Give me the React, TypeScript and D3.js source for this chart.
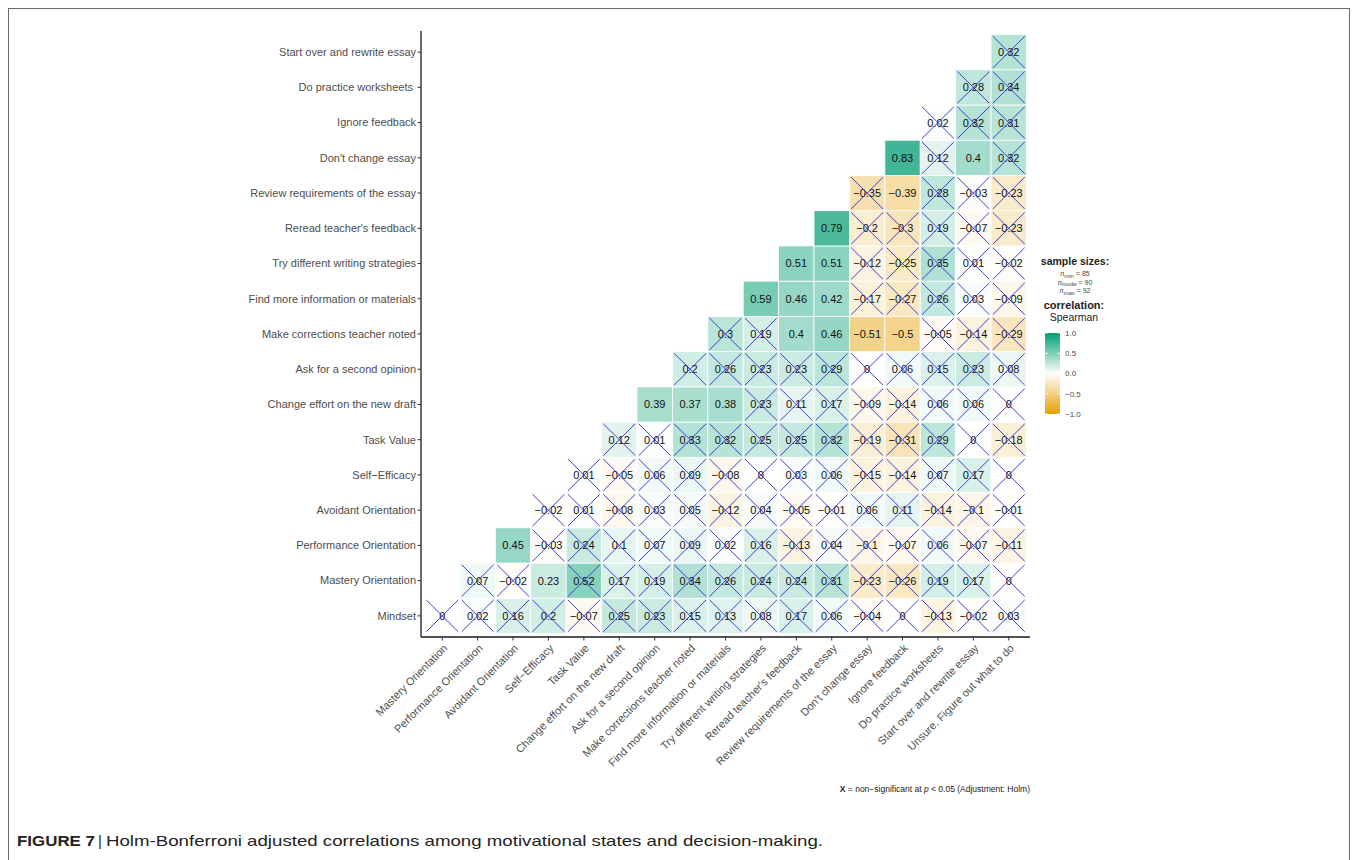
import React from "react";
import * as d3 from "d3";

// Variables on the vertical axis, bottom to top
const rowVars = [
  "Mindset",
  "Mastery Orientation",
  "Performance Orientation",
  "Avoidant Orientation",
  "Self\u2212Efficacy",
  "Task Value",
  "Change effort on the new draft",
  "Ask for a second opinion",
  "Make corrections teacher noted",
  "Find more information or materials",
  "Try different writing strategies",
  "Reread teacher's feedback",
  "Review requirements of the essay",
  "Don't change essay",
  "Ignore feedback",
  "Do practice worksheets ",
  "Start over and rewrite essay",
];

// Variables on the horizontal axis, left to right
const colVars = [
  "Mastery Orientation",
  "Performance Orientation",
  "Avoidant Orientation",
  "Self\u2212Efficacy",
  "Task Value",
  "Change effort on the new draft",
  "Ask for a second opinion",
  "Make corrections teacher noted",
  "Find more information or materials",
  "Try different writing strategies",
  "Reread teacher's feedback",
  "Review requirements of the essay",
  "Don't change essay",
  "Ignore feedback",
  "Do practice worksheets",
  "Start over and rewrite essay",
  "Unsure. Figure out what to do",
];

// Spearman correlations; row r starts at column r (lower triangle)
const mindset = [0, 0.02, 0.16, 0.2, -0.07, 0.25, 0.23, 0.15, 0.13, 0.08, 0.17, 0.06, -0.04, 0, -0.13, -0.02, 0.03];
const mastery = [0.07, -0.02, 0.23, 0.52, 0.17, 0.19, 0.34, 0.26, 0.24, 0.24, 0.31, -0.23, -0.26, 0.19, 0.17, 0];
const performance = [0.45, -0.03, 0.24, 0.1, 0.07, 0.09, 0.02, 0.16, -0.13, 0.04, -0.1, -0.07, 0.06, -0.07, -0.11];
const avoidant = [-0.02, 0.01, -0.08, 0.03, 0.05, -0.12, 0.04, -0.05, -0.01, 0.06, 0.11, -0.14, -0.1, -0.01];
const selfEfficacy = [0.01, -0.05, 0.06, 0.09, -0.08, 0, 0.03, 0.06, -0.15, -0.14, 0.07, 0.17, 0];
const taskValue = [0.12, 0.01, 0.33, 0.32, 0.25, 0.25, 0.32, -0.19, -0.31, 0.29, 0, -0.18];
const changeEffort = [0.39, 0.37, 0.38, 0.23, 0.11, 0.17, -0.09, -0.14, 0.06, 0.06, 0];
const askOpinion = [0.2, 0.26, 0.23, 0.23, 0.29, 0, 0.06, 0.15, 0.23, 0.08];
const makeCorrections = [0.3, 0.19, 0.4, 0.46, -0.51, -0.5, -0.05, -0.14, -0.29];
const findInfo = [0.59, 0.46, 0.42, -0.17, -0.27, 0.26, 0.03, -0.09];
const tryStrategies = [0.51, 0.51, -0.12, -0.25, 0.35, 0.01, -0.02];
const rereadFeedback = [0.79, -0.2, -0.3, 0.19, -0.07, -0.23];
const reviewRequirements = [-0.35, -0.39, 0.28, -0.03, -0.23];
const dontChange = [0.83, 0.12, 0.4, 0.32];
const ignoreFeedback = [0.02, 0.32, 0.31];
const practiceWorksheets = [0.28, 0.34];
const startOver = [0.32];

const rowValues = [
  mindset, mastery, performance, avoidant, selfEfficacy, taskValue, changeEffort,
  askOpinion, makeCorrections, findInfo, tryStrategies, rereadFeedback,
  reviewRequirements, dontChange, ignoreFeedback, practiceWorksheets, startOver,
];

// Pairs that stay significant after Holm adjustment: [row index, column index]
const significantPairs: [number, number][] = [
  [1, 3], [2, 2], [6, 6], [6, 7], [6, 8], [8, 10], [8, 11], [8, 12], [8, 13],
  [9, 9], [9, 10], [9, 11], [10, 10], [10, 11], [11, 11], [12, 13], [13, 13], [13, 15],
];

const legendTicks = [1, 0.5, 0, -0.5, -1];

const FONT = "'Liberation Sans', Arial, Helvetica, sans-serif";
const MINUS = "\u2212";
const fmt = (v: number) => String(v).replace("-", MINUS);

export default function App() {
  const x = d3.scaleBand<string>().domain(colVars).range([421, 1030]).paddingInner(0).paddingOuter(0.1);
  const y = d3.scaleBand<number>().domain(d3.range(rowVars.length)).range([637, 31]).paddingInner(0).paddingOuter(0.1);
  const fill = d3
    .scaleLinear<string>()
    .domain([-1, 0, 1])
    .range(["#E69F00", "#FFFFFF", "#009E73"])
    .interpolate(d3.interpolateRgb);

  const bw = x.bandwidth();
  const bh = y.bandwidth();
  const sig = new Set(significantPairs.map(([r, c]) => `${r}-${c}`));

  const cells: { r: number; c: number; v: number }[] = [];
  rowValues.forEach((vals, r) => {
    vals.forEach((v, k) => cells.push({ r, c: r + k, v }));
  });

  // legend colour bar
  const barX = 1045;
  const barW = 15;
  const barY = d3.scaleLinear().domain([1, -1]).range([333, 414]);
  const stops = d3.range(0, 1.0001, 0.05);

  const axisTop = 31;
  const axisBottom = 637;
  const axisLeft = 421;
  const axisRight = 1030;

  return (
    <svg
      width={1358}
      height={860}
      style={{ position: "absolute", left: 0, top: 0, background: "#fff" }}
      fontFamily={FONT}
    >
      <defs>
        <linearGradient id="corrBar" x1="0" y1="0" x2="0" y2="1">
          {stops.map((t) => (
            <stop key={t} offset={t} stopColor={fill(1 - 2 * t)} />
          ))}
        </linearGradient>
      </defs>

      {/* figure frame */}
      <rect x={8.5} y={8.5} width={1341} height={900} fill="none" stroke="#6b6b6b" strokeWidth={1} />

      {/* tiles */}
      <g>
        {cells.map(({ r, c, v }) => (
          <rect
            key={`t${r}-${c}`}
            x={x(colVars[c])!}
            y={y(r)!}
            width={bw}
            height={bh}
            fill={fill(v)}
            fillOpacity={0.9}
            stroke="#FFFFFF"
            strokeWidth={0.8}
          />
        ))}
      </g>

      {/* values */}
      <g fontSize={11} fill="#111" textAnchor="middle">
        {cells.map(({ r, c, v }) => (
          <text key={`v${r}-${c}`} x={x(colVars[c])! + bw / 2} y={y(r)! + bh / 2} dy="0.36em">
            {fmt(v)}
          </text>
        ))}
      </g>

      {/* non-significant markers */}
      <g stroke="#2B2BD0" strokeWidth={1} strokeOpacity={0.9}>
        {cells
          .filter(({ r, c }) => !sig.has(`${r}-${c}`))
          .map(({ r, c }) => {
            const cx = x(colVars[c])! + bw / 2;
            const cy = y(r)! + bh / 2;
            const h = bw * 0.45;
            const v = bh * 0.45;
            return (
              <g key={`x${r}-${c}`}>
                <line x1={cx - h} y1={cy - v} x2={cx + h} y2={cy + v} />
                <line x1={cx - h} y1={cy + v} x2={cx + h} y2={cy - v} />
              </g>
            );
          })}
      </g>

      {/* axes */}
      <line x1={axisLeft} y1={axisTop} x2={axisLeft} y2={axisBottom} stroke="#1a1a1a" strokeWidth={1.3} />
      <line x1={axisLeft} y1={axisBottom} x2={axisRight} y2={axisBottom} stroke="#1a1a1a" strokeWidth={1.3} />

      <g fontSize={11} fill="#4D4D4D">
        {rowVars.map((name, r) => {
          const cy = y(r)! + bh / 2;
          return (
            <g key={`yl${r}`}>
              <line x1={axisLeft - 3.5} x2={axisLeft} y1={cy} y2={cy} stroke="#333" strokeWidth={1} />
              <text x={axisLeft - 5} y={cy} dy="0.35em" textAnchor="end" style={{ whiteSpace: "pre" }}>
                {name}
              </text>
            </g>
          );
        })}
        {colVars.map((name) => {
          const cx = x(name)! + bw / 2;
          return (
            <g key={`xl${name}`}>
              <line x1={cx} x2={cx} y1={axisBottom} y2={axisBottom + 3.5} stroke="#333" strokeWidth={1} />
              <text transform={`translate(${cx},${axisBottom + 6}) rotate(-45)`} dy="0.75em" textAnchor="end">
                {name}
              </text>
            </g>
          );
        })}
      </g>

      {/* legend */}
      <g textAnchor="middle" fill="#222">
        <text x={1075} y={265} fontSize={10.5} fontWeight="bold">sample sizes:</text>
        <text x={1075} y={276} fontSize={7} fill="#444">
          <tspan fontStyle="italic">n</tspan>
          <tspan fontSize={6} dy={1.5}>min</tspan>
          <tspan dy={-1.5}>{" = 85"}</tspan>
        </text>
        <text x={1075} y={284.5} fontSize={7} fill="#444">
          <tspan fontStyle="italic">n</tspan>
          <tspan fontSize={6} dy={1.5}>mode</tspan>
          <tspan dy={-1.5}>{" = 90"}</tspan>
        </text>
        <text x={1075} y={293} fontSize={7} fill="#444">
          <tspan fontStyle="italic">n</tspan>
          <tspan fontSize={6} dy={1.5}>max</tspan>
          <tspan dy={-1.5}>{" = 92"}</tspan>
        </text>
        <text x={1074} y={309} fontSize={11} fontWeight="bold">correlation:</text>
        <text x={1074} y={321} fontSize={10.5}>Spearman</text>
      </g>
      <rect x={barX} y={barY(1)} width={barW} height={barY(-1) - barY(1)} fill="url(#corrBar)" />
      <g>
        {legendTicks.map((t) => (
          <g key={`lt${t}`}>
            <line x1={barX} x2={barX + 3} y1={barY(t)} y2={barY(t)} stroke="#fff" strokeWidth={0.8} />
            <line x1={barX + barW - 3} x2={barX + barW} y1={barY(t)} y2={barY(t)} stroke="#fff" strokeWidth={0.8} />
            <text x={barX + barW + 5} y={barY(t)} dy="0.35em" fontSize={8} fill="#4D4D4D">
              {d3.format(".1f")(t).replace("-", MINUS)}
            </text>
          </g>
        ))}
      </g>

      {/* footnote, right-aligned to the panel */}
      <text x={axisRight} y={792} fontSize={8.5} textAnchor="end" fill="#222">
        <tspan fontWeight="bold">X</tspan>
        <tspan>{` = non${MINUS}significant at `}</tspan>
        <tspan fontStyle="italic">p</tspan>
        <tspan>{" < 0.05 (Adjustment: Holm)"}</tspan>
      </text>

      {/* caption */}
      <text x={17} y={846} fontSize={15} fill="#222" fontWeight="bold" textLength={78} lengthAdjust="spacingAndGlyphs">
        FIGURE 7
      </text>
      <text x={98} y={846} fontSize={15} fill="#222">|</text>
      <text x={106} y={846} fontSize={15} fill="#222" textLength={717} lengthAdjust="spacingAndGlyphs">
        Holm-Bonferroni adjusted correlations among motivational states and decision-making.
      </text>
    </svg>
  );
}
